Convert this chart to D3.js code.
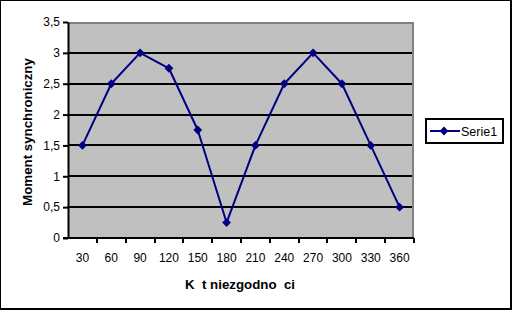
<!DOCTYPE html>
<html>
<head>
<meta charset="utf-8">
<script src="https://cdn.jsdelivr.net/npm/d3@7"></script>
<style>
  body { margin: 0; background: #fff; }
  svg text { font-family: "Liberation Sans", Arial, sans-serif; }
</style>
</head>
<body>
<svg width="512" height="310"></svg>
<script>
// chart data
var categories = ["30", "60", "90", "120", "150", "180", "210", "240", "270", "300", "330", "360"];
var serie1 = [1.5, 2.5, 3, 2.75, 1.75, 0.25, 1.5, 2.5, 3, 2.5, 1.5, 0.5];
var yTicks = [0, 0.5, 1, 1.5, 2, 2.5, 3, 3.5];
var seriesName = "Serie1";
var xTitle = "K\u00a0\u00a0t niezgodno\u00a0\u00a0ci";
var yTitle = "Moment synchroniczny";

var svg = d3.select("svg");

// outer frame (thin left/top, heavier right/bottom)
svg.append("rect").attr("x", 0).attr("y", 0).attr("width", 512).attr("height", 310).attr("fill", "#000");
svg.append("rect").attr("x", 1).attr("y", 1).attr("width", 509).attr("height", 307).attr("fill", "#fff");

var plot = {left: 68, top: 22, right: 414, bottom: 238};

var x = d3.scaleBand()
    .domain(categories)
    .range([plot.left, plot.right]);

var y = d3.scaleLinear()
    .domain([0, 3.5])
    .range([plot.bottom, plot.top]);

var fmt = function(d) { return String(d).replace(".", ","); };

// plot background
svg.append("rect")
    .attr("x", plot.left).attr("y", plot.top)
    .attr("width", plot.right - plot.left).attr("height", plot.bottom - plot.top)
    .attr("fill", "#c0c0c0");

// gray border top/right
svg.append("path")
    .attr("d", "M" + plot.left + "," + (plot.top + 1) + "H" + (plot.right - 1) + "V" + plot.bottom)
    .attr("fill", "none")
    .attr("stroke", "#808080")
    .attr("stroke-width", 2);

// gridlines
svg.append("g").selectAll("line")
    .data(yTicks.filter(function(d) { return d > 0 && d < 3.5; }))
  .enter().append("line")
    .attr("x1", plot.left).attr("x2", plot.right - 2)
    .attr("y1", function(d) { return Math.round(y(d)); })
    .attr("y2", function(d) { return Math.round(y(d)); })
    .attr("stroke", "#000")
    .attr("stroke-width", 2);

// y axis
var yAxis = svg.append("g")
    .attr("transform", "translate(" + plot.left + ",0)")
    .call(d3.axisLeft(y).tickValues(yTicks).tickFormat(fmt).tickSizeInner(5).tickSizeOuter(0).tickPadding(3));
yAxis.select(".domain").attr("stroke-width", 2);
yAxis.selectAll(".tick line").attr("stroke-width", 2);
yAxis.selectAll("text").attr("font-size", 12).attr("fill", "#000");

// x axis: ticks at band boundaries
var xAxis = svg.append("g")
    .attr("transform", "translate(0," + plot.bottom + ")");
xAxis.append("line")
    .attr("x1", plot.left - 5).attr("x2", plot.right)
    .attr("stroke", "#000").attr("stroke-width", 2);
xAxis.selectAll(".xt")
    .data(categories)
  .enter().append("line")
    .attr("class", "xt")
    .attr("x1", function(d) { return Math.round(x(d) + x.bandwidth()); })
    .attr("x2", function(d) { return Math.round(x(d) + x.bandwidth()); })
    .attr("y1", 0).attr("y2", 5)
    .attr("stroke", "#000").attr("stroke-width", 2);
xAxis.selectAll(".xl")
    .data(categories)
  .enter().append("text")
    .attr("class", "xl")
    .attr("x", function(d) { return x(d) + x.bandwidth() / 2; })
    .attr("y", 24)
    .attr("text-anchor", "middle")
    .attr("font-size", 12)
    .text(function(d) { return d; });

// axis titles
svg.append("text")
    .attr("x", 240).attr("y", 289)
    .attr("text-anchor", "middle")
    .attr("font-size", 13.3)
    .attr("font-weight", "bold")
    .style("white-space", "pre")
    .text(xTitle);

svg.append("text")
    .attr("transform", "translate(32," + ((plot.top + plot.bottom) / 2 + 2) + ") rotate(-90)")
    .attr("text-anchor", "middle")
    .attr("font-size", 13.3)
    .attr("font-weight", "bold")
    .text(yTitle);

// series line
var line = d3.line()
    .x(function(d, i) { return x(categories[i]) + x.bandwidth() / 2; })
    .y(function(d) { return y(d); });

svg.append("path")
    .datum(serie1)
    .attr("fill", "none")
    .attr("stroke", "#000080")
    .attr("stroke-width", 2)
    .attr("stroke-linejoin", "round")
    .attr("d", line);

var diamond = d3.symbol().type(d3.symbolDiamond2).size(50);

svg.selectAll(".dot")
    .data(serie1)
  .enter().append("path")
    .attr("class", "dot")
    .attr("d", diamond)
    .attr("transform", function(d, i) {
        return "translate(" + (x(categories[i]) + x.bandwidth() / 2) + "," + y(d) + ")";
    })
    .attr("fill", "#000080");

// legend
var lg = svg.append("g");
lg.append("rect")
    .attr("x", 426).attr("y", 119)
    .attr("width", 77).attr("height", 24)
    .attr("fill", "#fff")
    .attr("stroke", "#000")
    .attr("stroke-width", 2);
lg.append("line")
    .attr("x1", 430).attr("x2", 460)
    .attr("y1", 131).attr("y2", 131)
    .attr("stroke", "#000080").attr("stroke-width", 2);
lg.append("path")
    .attr("d", diamond)
    .attr("transform", "translate(444,131)")
    .attr("fill", "#000080");
lg.append("text")
    .attr("x", 461).attr("y", 135.5)
    .attr("font-size", 12.5)
    .text(seriesName);
</script>
</body>
</html>
